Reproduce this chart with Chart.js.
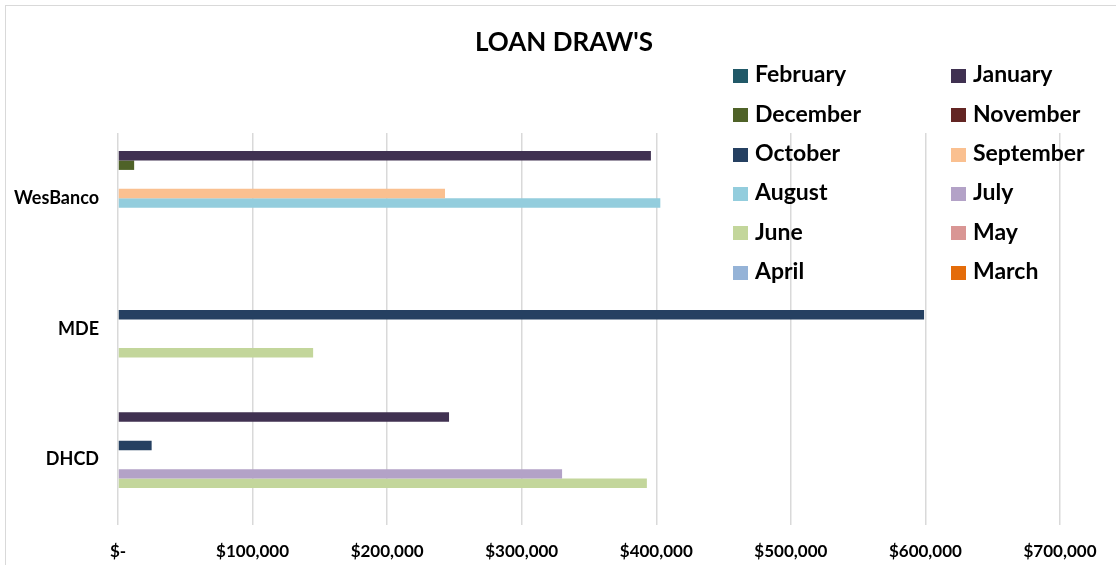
<!DOCTYPE html>
<html>
<head>
<meta charset="utf-8">
<script src="https://cdn.jsdelivr.net/npm/chart.js@4/dist/chart.umd.min.js"></script>
<style>
  html, body { margin: 0; padding: 0; background: #fff; }
  #wrap { position: relative; width: 1116px; height: 565px; overflow: hidden; font-family: Lato, "Open Sans", sans-serif; }
  #frame { position: absolute; left: 5px; top: 5px; width: 1300px; height: 800px; border-left: 1.5px solid #d9d9d9; border-top: 1.5px solid #d9d9d9; }
  #c { position: absolute; left: 0; top: 0; }
  #title { position: absolute; left: 0; width: 1128px; top: 26px; text-align: center; font-weight: 700; font-size: 26px; line-height: 1.2; color: #000; }
  .sw { position: absolute; width: 15px; height: 14px; }
  .lt { position: absolute; font-weight: 700; font-size: 23px; line-height: 1.2; color: #000; white-space: nowrap; }
</style>
</head>
<body>
<div id="wrap">
  <div id="frame"></div>
  <canvas id="c" width="1116" height="565"></canvas>
  <div id="title">LOAN DRAW'S</div>
  <div id="legend"></div>
</div>
<script>
// Categories (top to bottom)
const categories = ["WesBanco", "MDE", "DHCD"];

// Series (order as in legend / top-to-bottom within each group)
const seriesNames = ["February", "January", "December", "November", "October", "September",
                     "August", "July", "June", "May", "April", "March"];
const seriesColors = ["#215968", "#403151", "#4F6228", "#632523", "#254061", "#FAC090",
                      "#93CDDD", "#B3A2C7", "#C3D69B", "#D99694", "#95B3D7", "#E46C0A"];

// Values per series: [WesBanco, MDE, DHCD]
const february  = [null, null, null];
const january   = [396000, null, 246000];
const december  = [12000, null, null];
const november  = [null, null, null];
const october   = [null, 599000, 25000];
const september = [243000, null, null];
const august    = [403000, null, null];
const july      = [null, null, 330000];
const june      = [null, 145000, 393000];
const may       = [null, null, null];
const april     = [null, null, null];
const march     = [null, null, null];

// X axis ticks
const xTickValues = [0, 100000, 200000, 300000, 400000, 500000, 600000, 700000];
const xTickLabels = ["$-", "$100,000", "$200,000", "$300,000", "$400,000", "$500,000", "$600,000", "$700,000"];

const seriesValues = [february, january, december, november, october, september,
                      august, july, june, may, april, march];

const datasets = seriesNames.map((name, i) => ({
  label: name,
  data: seriesValues[i],
  backgroundColor: seriesColors[i],
  borderWidth: 0,
  barPercentage: 1.0,
  categoryPercentage: 0.87
}));

const FONT = "Lato, 'Open Sans', sans-serif";

new Chart(document.getElementById("c"), {
  type: "bar",
  data: { labels: categories, datasets },
  options: {
    indexAxis: "y",
    responsive: false,
    animation: false,
    layout: { padding: { top: 133, right: 56, bottom: 0, left: 0 } },
    plugins: { legend: { display: false }, title: { display: false }, tooltip: { enabled: false } },
    scales: {
      x: {
        min: 0, max: 700000,
        afterBuildTicks: (scale) => { scale.ticks = xTickValues.map(v => ({ value: v })); },
        afterFit: (scale) => { scale.height = 40; },
        grid: { color: "#d9d9d9", lineWidth: 1.5, drawTicks: false },
        border: { display: false },
        ticks: {
          padding: 16,
          color: "#000",
          font: { family: FONT, size: 17, weight: "bold" },
          callback: (v) => { const k = xTickValues.indexOf(v); return k >= 0 ? xTickLabels[k] : ""; }
        }
      },
      y: {
        afterFit: (scale) => { scale.width = 118; },
        grid: { display: false, drawTicks: false },
        border: { display: false },
        ticks: {
          padding: 19,
          color: "#000",
          font: { family: FONT, size: 18, weight: "bold" }
        }
      }
    }
  }
});

// HTML legend (two columns, six rows), built from the series arrays
const legend = document.getElementById("legend");
seriesNames.forEach((name, i) => {
  const col = i % 2, row = Math.floor(i / 2);
  const swLeft = col === 0 ? 733 : 951;
  const sw = document.createElement("div");
  sw.className = "sw";
  sw.style.left = swLeft + "px";
  sw.style.top = (69 + row * 39.3) + "px";
  sw.style.background = seriesColors[i];
  legend.appendChild(sw);
  const t = document.createElement("div");
  t.className = "lt";
  t.style.left = (swLeft + 22) + "px";
  t.style.top = (60.3 + row * 39.3) + "px";
  t.textContent = name;
  legend.appendChild(t);
});
</script>
</body>
</html>
